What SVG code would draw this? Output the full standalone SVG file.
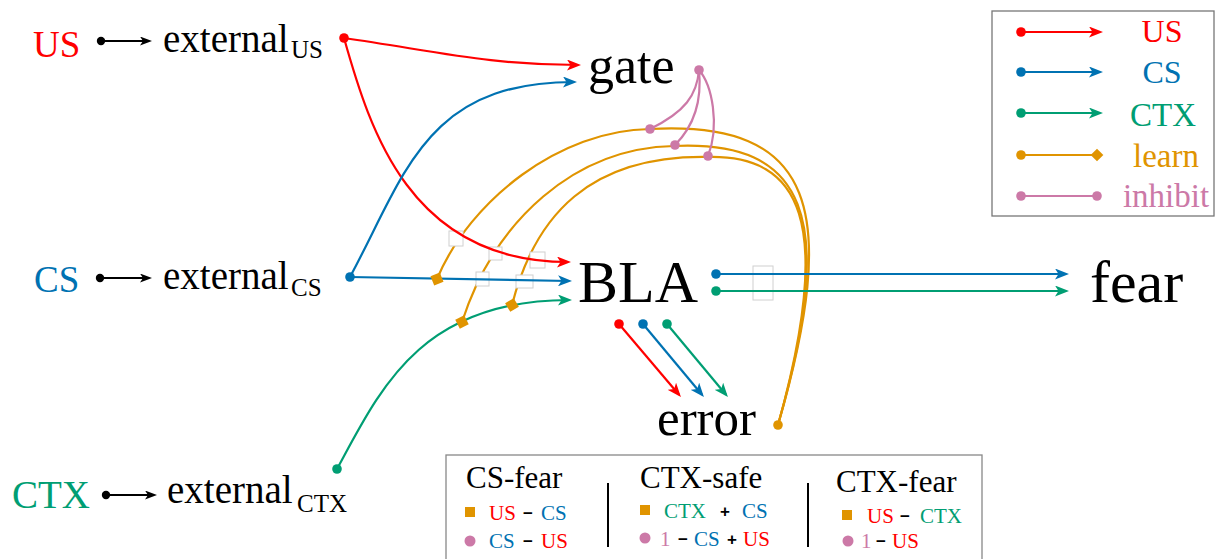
<svg xmlns="http://www.w3.org/2000/svg" width="1216" height="559" viewBox="0 0 1216 559" font-family="'Liberation Serif', 'DejaVu Serif', serif">
<style>
text{font-family:'Liberation Serif','DejaVu Serif',serif}
.red{fill:#ff0000}.blue{fill:#0072b2}.green{fill:#009e73}.orange{fill:#e09400}.pink{fill:#cc79a7}.blk{fill:#000}
text.op{font-family:'Liberation Sans','DejaVu Sans',sans-serif;font-weight:bold}
.c{fill:none;stroke-width:2.2}
.cr{stroke:#ff0000}.cb{stroke:#0072b2}.cg{stroke:#009e73}.co{stroke:#e09400}.cp{stroke:#cc79a7}.ck{stroke:#000}
.gbox{fill:#fff;stroke:#d0d0d0;stroke-width:1}
</style>
<defs>
<marker id="aR" viewBox="0 0 14 11" refX="11" refY="5.5" markerWidth="14" markerHeight="11" markerUnits="userSpaceOnUse" orient="auto"><path d="M0,0 L14,5.5 L0,11 L3.5,5.5 Z" fill="#ff0000"/></marker>
<marker id="aB" viewBox="0 0 14 11" refX="11" refY="5.5" markerWidth="14" markerHeight="11" markerUnits="userSpaceOnUse" orient="auto"><path d="M0,0 L14,5.5 L0,11 L3.5,5.5 Z" fill="#0072b2"/></marker>
<marker id="aG" viewBox="0 0 14 11" refX="11" refY="5.5" markerWidth="14" markerHeight="11" markerUnits="userSpaceOnUse" orient="auto"><path d="M0,0 L14,5.5 L0,11 L3.5,5.5 Z" fill="#009e73"/></marker>
<marker id="aK" viewBox="0 0 12 9" refX="9" refY="4.5" markerWidth="12" markerHeight="9" markerUnits="userSpaceOnUse" orient="auto"><path d="M0,0 L12,4.5 L0,9 L3,4.5 Z" fill="#000"/></marker>
</defs>

<!-- connectors -->
<g id="connectors">
  <!-- learn curves (orange) -->
  <path class="c co" d="M778,425 C840,210 815,120 650,129 C560,130 470,200 437,279"/>
  <path class="c co" d="M778,425 C838,215 805,140 674,146 C575,148 495,220 462,322"/>
  <path class="c co" d="M778,425 C835,220 800,155 708,157 C590,155 535,215 512,305"/>
  <!-- faint label boxes -->
  <rect class="gbox" x="449" y="231" width="14" height="15"/>
  <rect class="gbox" x="489" y="247" width="13" height="13"/>
  <rect class="gbox" x="530" y="252" width="15" height="16"/>
  <rect class="gbox" x="476" y="272" width="13" height="14"/>
  <rect class="gbox" x="516" y="275" width="17" height="13"/>
  <rect class="gbox" x="753" y="266" width="20" height="34"/>
  <!-- inhibit curves (pink) -->
  <path class="c cp" d="M699,70 C697,95 685,112 650,129"/>
  <path class="c cp" d="M699,70 C702,100 695,125 675,145"/>
  <path class="c cp" d="M699,70 C712,85 720,125 708,156"/>
  <circle class="pink" cx="699" cy="70" r="4.8"/>
  <circle class="pink" cx="650" cy="129" r="4.8"/>
  <circle class="pink" cx="675" cy="145" r="4.8"/>
  <circle class="pink" cx="708" cy="156" r="4.8"/>
  <!-- external arrows -->
  <path class="c ck" d="M101,41 L149,41" marker-end="url(#aK)"/>
  <circle class="blk" cx="101" cy="41" r="4.2"/>
  <path class="c ck" d="M100,278 L149,278" marker-end="url(#aK)"/>
  <circle class="blk" cx="100" cy="278" r="4.2"/>
  <path class="c ck" d="M106,495 L154,495" marker-end="url(#aK)"/>
  <circle class="blk" cx="106" cy="495" r="4.2"/>
  <!-- US -->
  <path class="c cr" d="M344,38 C440,52 490,65 578,65" marker-end="url(#aR)"/>
  <path class="c cr" d="M344,38 C370,130 410,262 568,262" marker-end="url(#aR)"/>
  <circle class="red" cx="344" cy="38" r="4.8"/>
  <!-- CS -->
  <path class="c cb" d="M350,277 C405,175 425,82 574,82" marker-end="url(#aB)"/>
  <path class="c cb" d="M350,277 L569,281" marker-end="url(#aB)"/>
  <circle class="blue" cx="350" cy="277" r="4.8"/>
  <!-- CTX -->
  <path class="c cg" d="M337,469 C380,390 420,300 569,300" marker-end="url(#aG)"/>
  <circle class="green" cx="337" cy="469" r="4.8"/>
  <!-- BLA to fear -->
  <path class="c cb" d="M716,274 L1066,274" marker-end="url(#aB)"/>
  <circle class="blue" cx="716" cy="274" r="4.8"/>
  <path class="c cg" d="M716,291 L1066,291" marker-end="url(#aG)"/>
  <circle class="green" cx="716" cy="291" r="4.8"/>
  <!-- BLA to error -->
  <path class="c cr" d="M619,324 L679,394.7" marker-end="url(#aR)"/>
  <circle class="red" cx="619" cy="324" r="4.8"/>
  <path class="c cb" d="M643,324 L702,394.7" marker-end="url(#aB)"/>
  <circle class="blue" cx="643" cy="324" r="4.8"/>
  <path class="c cg" d="M667,324 L726,394.7" marker-end="url(#aG)"/>
  <circle class="green" cx="667" cy="324" r="4.8"/>
  <!-- learn endpoints -->
  <circle class="orange" cx="778" cy="425" r="4.8"/>
  <rect class="orange" x="-5" y="-5" width="10" height="10" transform="translate(437,279) rotate(-22)"/>
  <rect class="orange" x="-5" y="-5" width="10" height="10" transform="translate(462,322) rotate(-27)"/>
  <rect class="orange" x="-5" y="-5" width="10" height="10" transform="translate(512,305) rotate(-31)"/>
</g>

<!-- nodes -->
<g id="US"><text class="red" x="33" y="57" font-size="37">US</text></g>
<g id="CS"><text class="blue" x="34" y="292" font-size="37">CS</text></g>
<g id="CTX"><text class="green" x="12" y="508" font-size="39">CTX</text></g>
<g id="external_US"><text class="blk" x="163" y="52" font-size="39">external</text><text class="blk" x="291" y="58" font-size="25">US</text></g>
<g id="external_CS"><text class="blk" x="163" y="289" font-size="39">external</text><text class="blk" x="291" y="296" font-size="25">CS</text></g>
<g id="external_CTX"><text class="blk" x="167" y="503" font-size="39">external</text><text class="blk" x="297" y="512" font-size="25">CTX</text></g>
<g id="gate"><text class="blk" x="588" y="83" font-size="52">gate</text></g>
<g id="BLA"><text class="blk" x="578" y="302" font-size="60">BLA</text></g>
<g id="fear"><text class="blk" x="1090" y="302" font-size="60">fear</text></g>
<g id="error"><text class="blk" x="657" y="435" font-size="51">error</text></g>

<!-- legend -->
<g id="legend">
  <rect x="992" y="11" width="222" height="205" fill="#fff" stroke="#777" stroke-width="1.3"/>
  <path class="c cr" d="M1021,32 L1100,32" marker-end="url(#aR)"/><circle class="red" cx="1021" cy="32" r="4.8"/>
  <path class="c cb" d="M1021,72 L1100,72" marker-end="url(#aB)"/><circle class="blue" cx="1021" cy="72" r="4.8"/>
  <path class="c cg" d="M1021,113 L1100,113" marker-end="url(#aG)"/><circle class="green" cx="1021" cy="113" r="4.8"/>
  <path class="c co" d="M1021,155 L1097,155"/><circle class="orange" cx="1021" cy="155" r="4.8"/>
  <rect class="orange" x="-4.5" y="-4.5" width="9" height="9" transform="translate(1097,155) rotate(45)"/>
  <path class="c cp" d="M1021,196 L1097,196"/><circle class="pink" cx="1021" cy="196" r="4.8"/><circle class="pink" cx="1097" cy="196" r="4.8"/>
  <text class="red" x="1162" y="42" font-size="32" text-anchor="middle">US</text>
  <text class="blue" x="1162" y="83" font-size="32" text-anchor="middle">CS</text>
  <text class="green" x="1163" y="126" font-size="33" text-anchor="middle">CTX</text>
  <text class="orange" x="1166" y="167" font-size="33" text-anchor="middle">learn</text>
  <text class="pink" x="1166" y="207" font-size="33" text-anchor="middle">inhibit</text>
</g>

<!-- condition table -->
<g id="conditions">
  <rect x="446" y="455" width="536" height="110" fill="#fff" stroke="#888" stroke-width="1.3"/>
  <line x1="608" y1="483" x2="608" y2="547" stroke="#000" stroke-width="2"/>
  <line x1="808" y1="483" x2="808" y2="547" stroke="#000" stroke-width="2"/>
  <text class="blk" x="466" y="488" font-size="31">CS-fear</text>
  <text class="blk" x="640" y="488" font-size="31">CTX-safe</text>
  <text class="blk" x="836" y="492" font-size="31">CTX-fear</text>

  <rect class="orange" x="465" y="507" width="10" height="10"/>
  <text class="red" x="489" y="520" font-size="21">US</text>
  <text class="blk op" x="523" y="519" font-size="17">−</text>
  <text class="blue" x="541" y="520" font-size="21">CS</text>
  <circle class="pink" cx="470" cy="541" r="5.5"/>
  <text class="blue" x="489" y="548" font-size="21">CS</text>
  <text class="blk op" x="523" y="547" font-size="17">−</text>
  <text class="red" x="541" y="548" font-size="21">US</text>

  <rect class="orange" x="640" y="505" width="10" height="10"/>
  <text class="green" x="664" y="518" font-size="21">CTX</text>
  <text class="blk op" x="720" y="517" font-size="17">+</text>
  <text class="blue" x="742" y="518" font-size="21">CS</text>
  <circle class="pink" cx="645" cy="538" r="5.5"/>
  <text class="pink" x="660" y="546" font-size="21">1</text>
  <text class="blk op" x="678" y="545" font-size="17">−</text>
  <text class="blue" x="694" y="546" font-size="21">CS</text>
  <text class="blk op" x="727" y="545" font-size="17">+</text>
  <text class="red" x="743" y="546" font-size="21">US</text>

  <rect class="orange" x="842" y="510" width="10" height="10"/>
  <text class="red" x="867" y="523" font-size="21">US</text>
  <text class="blk op" x="900" y="522" font-size="17">−</text>
  <text class="green" x="920" y="523" font-size="21">CTX</text>
  <circle class="pink" cx="848" cy="541" r="5.5"/>
  <text class="pink" x="861" y="548" font-size="21">1</text>
  <text class="blk op" x="876" y="547" font-size="17">−</text>
  <text class="red" x="892" y="548" font-size="21">US</text>
</g>
</svg>
